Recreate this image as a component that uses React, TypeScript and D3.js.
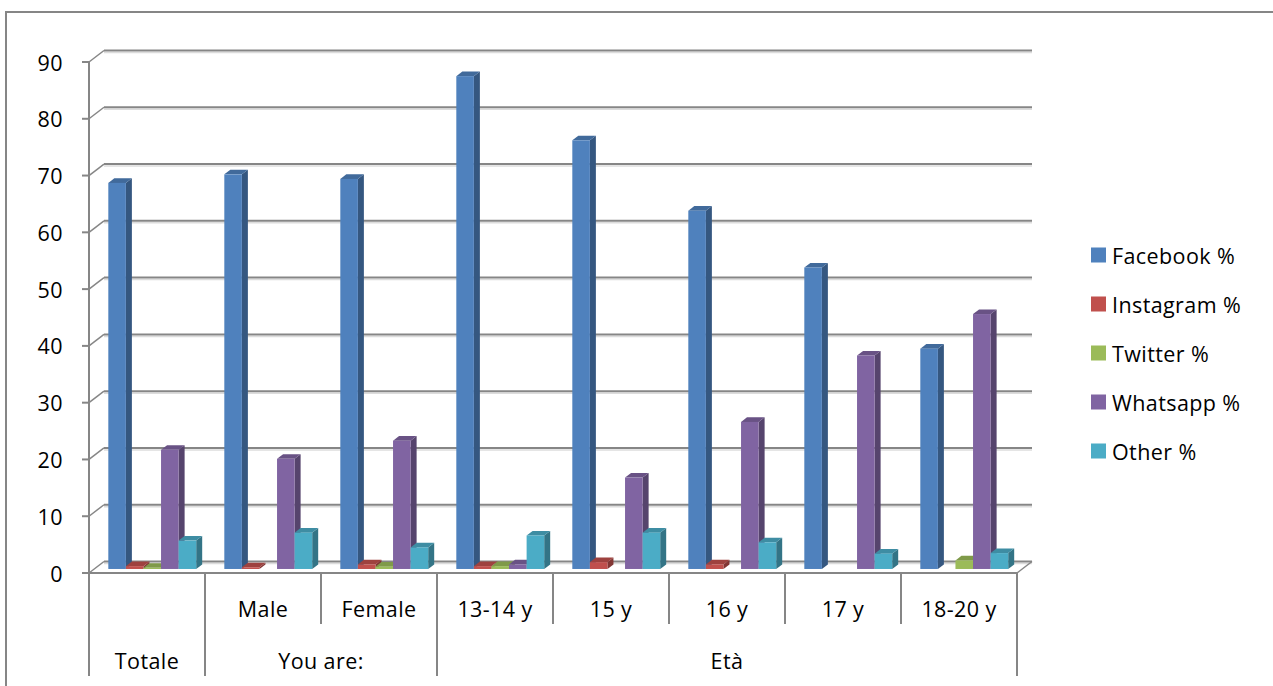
import React from "react";
import * as d3 from "d3";

// Categories along the x axis (first label row) and their groups (second row)
const categories = ["Totale", "Male", "Female", "13-14 y", "15 y", "16 y", "17 y", "18-20 y"];
const rowOneLabels = ["", "Male", "Female", "13-14 y", "15 y", "16 y", "17 y", "18-20 y"];
const groupLabels = ["Totale", "You are:", "Età"];
const groupStart = [0, 1, 3];
const groupEnd = [0, 2, 7];

// Series values (%)
const facebook = [68, 69.5, 68.7, 86.8, 75.5, 63.1, 53.1, 38.8];
const instagram = [0.5, 0.3, 0.8, 0.5, 1.2, 0.8, 0, 0];
const twitter = [0.2, 0, 0.4, 0.5, 0, 0, 0, 1.5];
const whatsapp = [21, 19.4, 22.6, 0.8, 16.1, 25.9, 37.6, 44.9];
const other = [5, 6.4, 3.8, 5.9, 6.4, 4.7, 2.7, 2.8];

const seriesNames = ["Facebook %", "Instagram %", "Twitter %", "Whatsapp %", "Other %"];
const seriesColors = ["#4F81BD", "#C0504D", "#9BBB59", "#8064A2", "#4BACC6"];
const yTicks = [0, 10, 20, 30, 40, 50, 60, 70, 80, 90];

const W = 1273;
const H = 686;
const FONT = "'Open Sans', 'DejaVu Sans', sans-serif";
const FS = 21.5;
const LS = 0.4;
const AXIS = "#868686";

// 3D depth projection: full depth of the plot box
const DX = 15;
const DY = -11.5;
// Columns sit between these depth fractions
const T0 = 0.35;
const T1 = 0.75;

export default function App() {
  const series = [facebook, instagram, twitter, whatsapp, other];

  const x = d3.scaleBand<string>().domain(categories).range([89, 1017]).paddingInner(0).paddingOuter(0);
  const xs = d3
    .scaleBand<number>()
    .domain(d3.range(series.length))
    .range([0, x.bandwidth()])
    .paddingInner(0)
    .paddingOuter(0.8);
  const y = d3.scaleLinear().domain([0, 90]).range([573, 62]);

  const left = 89;
  const right = 1017;
  const floorY = y(0);

  const pts = (p: number[][]) => p.map((q) => q.join(",")).join(" ");

  const bars: React.ReactNode[] = [];
  categories.forEach((c, ci) => {
    series.forEach((vals, si) => {
      const v = vals[ci];
      if (!v) return;
      const col = d3.color(seriesColors[si])!;
      const side = col.darker(1.1).formatHex();
      const top = col.darker(0.55).formatHex();
      const x0 = (x(c) as number) + (xs(si) as number) + DX * T0;
      const x1 = x0 + xs.bandwidth();
      const yT = y(v) + DY * T0;
      const yB = y(0) + DY * T0;
      const ddx = DX * (T1 - T0);
      const ddy = DY * (T1 - T0);
      bars.push(
        <g key={`${ci}-${si}`}>
          <polygon
            points={pts([
              [x1, yT],
              [x1 + ddx, yT + ddy],
              [x1 + ddx, yB + ddy],
              [x1, yB],
            ])}
            fill={side}
          />
          <polygon
            points={pts([
              [x0, yT],
              [x1, yT],
              [x1 + ddx, yT + ddy],
              [x0 + ddx, yT + ddy],
            ])}
            fill={top}
          />
          <rect x={x0} y={yT} width={x1 - x0} height={yB - yT} fill={seriesColors[si]} />
        </g>
      );
    });
  });

  // category boundaries for the label table
  const boundaries = d3.range(categories.length + 1).map((i) => left + i * x.step());
  const groupBoundaryIdx = new Set([0, ...groupEnd.map((e) => e + 1)]);

  const textProps = {
    fontFamily: FONT,
    fontSize: FS,
    letterSpacing: LS,
    fill: "#000",
    dominantBaseline: "central" as const,
  };

  return (
    <svg width={W} height={H} style={{ display: "block", position: "absolute", left: 0, top: 0 }}>
      <rect x={0} y={0} width={W} height={H} fill="#fff" />
      {/* chart frame */}
      <path d={`M6,${H + 5} V12 H${W + 5}`} fill="none" stroke={AXIS} strokeWidth={2} />

      {/* back wall gridlines and left wall diagonals */}
      {yTicks.map((t) => (
        <g key={t}>
          <line x1={left + DX} x2={right + DX} y1={y(t) + DY + 2} y2={y(t) + DY + 2} stroke="#dcdcdc" strokeWidth={1.5} />
          <line x1={left + DX} x2={right + DX} y1={y(t) + DY} y2={y(t) + DY} stroke={AXIS} strokeWidth={2} />
          <line x1={left} y1={y(t)} x2={left + DX} y2={y(t) + DY} stroke={AXIS} strokeWidth={1.5} />
          <line x1={left - 7} x2={left} y1={y(t)} y2={y(t)} stroke={AXIS} strokeWidth={2} />
          <text x={63} y={y(t)} textAnchor="end" {...textProps}>
            {t}
          </text>
        </g>
      ))}

      {/* floor edges */}
      <line x1={left - 7} x2={right} y1={floorY} y2={floorY} stroke={AXIS} strokeWidth={2} />
      <line x1={right} y1={floorY} x2={right + DX} y2={floorY + DY} stroke={AXIS} strokeWidth={1.5} />
      <line x1={left} x2={left} y1={y(90)} y2={676} stroke={AXIS} strokeWidth={2} />

      {bars}

      {/* category label table */}
      {boundaries.map((bx, i) =>
        i === 0 ? null : (
          <line
            key={i}
            x1={bx}
            x2={bx}
            y1={floorY}
            y2={groupBoundaryIdx.has(i) ? 676 : 624}
            stroke={AXIS}
            strokeWidth={2}
          />
        )
      )}
      {rowOneLabels.map((l, i) =>
        l ? (
          <text
            key={l}
            x={(x(categories[i]) as number) + x.bandwidth() / 2}
            y={608}
            textAnchor="middle"
            {...textProps}
          >
            {l}
          </text>
        ) : null
      )}
      {groupLabels.map((g, gi) => {
        const a = x(categories[groupStart[gi]]) as number;
        const b = (x(categories[groupEnd[gi]]) as number) + x.bandwidth();
        return (
          <text key={g} x={(a + b) / 2} y={660} textAnchor="middle" {...textProps}>
            {g}
          </text>
        );
      })}

      {/* legend */}
      {seriesNames.map((n, i) => {
        const cy = 255 + i * 49;
        return (
          <g key={n}>
            <rect x={1091} y={cy - 7.5} width={15} height={15} fill={seriesColors[i]} />
            <text x={1112} y={cy} {...textProps}>
              {n}
            </text>
          </g>
        );
      })}
    </svg>
  );
}
